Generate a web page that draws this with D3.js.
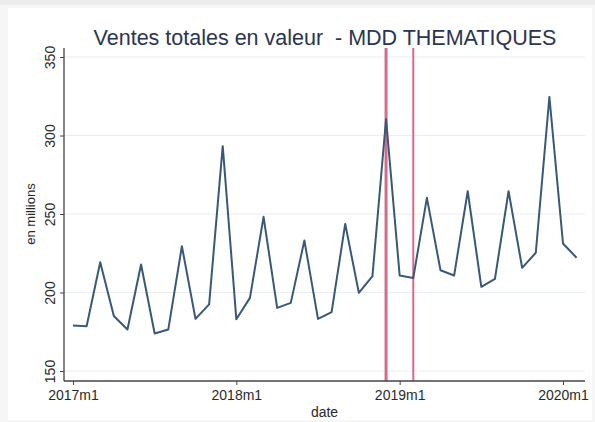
<!DOCTYPE html>
<html>
<head>
<meta charset="utf-8">
<script src="https://cdn.jsdelivr.net/npm/d3@7"></script>
<style>
  html, body { margin: 0; padding: 0; background: #ffffff; }
  svg { display: block; font-family: "Liberation Sans", Arial, sans-serif; }
</style>
</head>
<body>
<svg id="chart" width="595" height="422"></svg>
<script>
// Monthly sales value, MDD thématiques, 2017m1 .. 2020m2 (millions)
const sales = [
  179, 178.5, 219.3, 185, 176.4, 217.8, 173.9, 176.4, 229.5, 183.2, 192.4, 293.2,
  183, 196.6, 248.2, 190.2, 193.4, 233.1, 183.2, 187.5, 243.7, 199.8, 210.4, 310.5,
  210.8, 209.3, 260.3, 214.2, 210.8, 264.5, 203.6, 208.7, 264.5, 215.7, 225.3, 324.6,
  231.2, 222.1
];
const yTicks = [150, 200, 250, 300, 350];
const xTickMonths = [0, 12, 24, 36];            // month index from 2017m1
const xTickLabels = ["2017m1", "2018m1", "2019m1", "2020m1"];
const markerMonths = [23, 25];                   // 2018m12, 2019m2
const markerWidths = [3, 2];

const titleText = "Ventes totales en valeur  - MDD THEMATIQUES";

const svg = d3.select("#chart");

// outer frame
svg.append("rect").attr("x", 0).attr("y", 0).attr("width", 595).attr("height", 422).attr("fill", "#f6f6f6");
svg.append("rect").attr("x", 0).attr("y", 0).attr("width", 595).attr("height", 5).attr("fill", "#ececec");
svg.append("rect").attr("x", 8).attr("y", 8).attr("width", 584).attr("height", 412).attr("fill", "#ffffff");

const plot = { left: 64, right: 585, top: 48, bottom: 381 };

const x = d3.scaleLinear().domain([0, 36]).range([73, 563]);
const y = d3.scaleLinear().domain([150, 350]).range([371, 57]);

// grid lines
svg.append("g").selectAll("line").data(yTicks).join("line")
  .attr("x1", plot.left).attr("x2", plot.right)
  .attr("y1", d => y(d)).attr("y2", d => y(d))
  .attr("stroke", "#e8eef5").attr("stroke-width", 1);

// title
svg.append("text")
  .attr("x", 325).attr("y", 45)
  .attr("text-anchor", "middle")
  .attr("font-size", 21.5)
  .attr("fill", "#2b3450")
  .style("white-space", "pre")
  .text(titleText);

// vertical reference lines
svg.append("g").selectAll("line").data(markerMonths).join("line")
  .attr("x1", d => x(d)).attr("x2", d => x(d))
  .attr("y1", plot.top).attr("y2", plot.bottom)
  .attr("stroke", "#d66a88")
  .attr("stroke-width", (d, i) => markerWidths[i]);

// y axis
const yAxis = d3.axisLeft(y).tickValues(yTicks).tickSize(4).tickPadding(4).tickFormat(d3.format("d"));
const gy = svg.append("g").attr("transform", `translate(${plot.left},0)`).call(yAxis);
gy.select(".domain").attr("d", `M0,${plot.top}V${plot.bottom}`).attr("stroke", "#444").attr("stroke-width", 1.3);
gy.selectAll(".tick line").attr("stroke", "#444");
gy.selectAll(".tick text")
  .attr("font-size", 14).attr("fill", "#2a2a2a")
  .attr("text-anchor", "middle")
  .attr("transform", `rotate(-90, -14, 0)`)
  .attr("x", -14).attr("dy", "0.35em");

// x axis
const xAxis = d3.axisBottom(x).tickValues(xTickMonths).tickSize(4).tickPadding(5)
  .tickFormat((d, i) => xTickLabels[i]);
const gx = svg.append("g").attr("transform", `translate(0,${plot.bottom})`).call(xAxis);
gx.select(".domain").attr("d", `M${plot.left},0H${plot.right}`).attr("stroke", "#444").attr("stroke-width", 1.3);
gx.selectAll(".tick line").attr("stroke", "#444");
gx.selectAll(".tick text").attr("font-size", 14).attr("fill", "#2a2a2a");

// axis titles
svg.append("text")
  .attr("transform", `translate(35,${(y(150) + y(350)) / 2}) rotate(-90)`)
  .attr("text-anchor", "middle")
  .attr("font-size", 13).attr("fill", "#2a2a2a")
  .text("en millions");
svg.append("text")
  .attr("x", (plot.left + plot.right) / 2).attr("y", 417)
  .attr("text-anchor", "middle")
  .attr("font-size", 14).attr("fill", "#2a2a2a")
  .text("date");

// series line
const line = d3.line().x((d, i) => x(i)).y(d => y(d));
svg.append("path")
  .datum(sales)
  .attr("fill", "none")
  .attr("stroke", "#3a5878")
  .attr("stroke-width", 2)
  .attr("stroke-linejoin", "round")
  .attr("d", line);
</script>
</body>
</html>
